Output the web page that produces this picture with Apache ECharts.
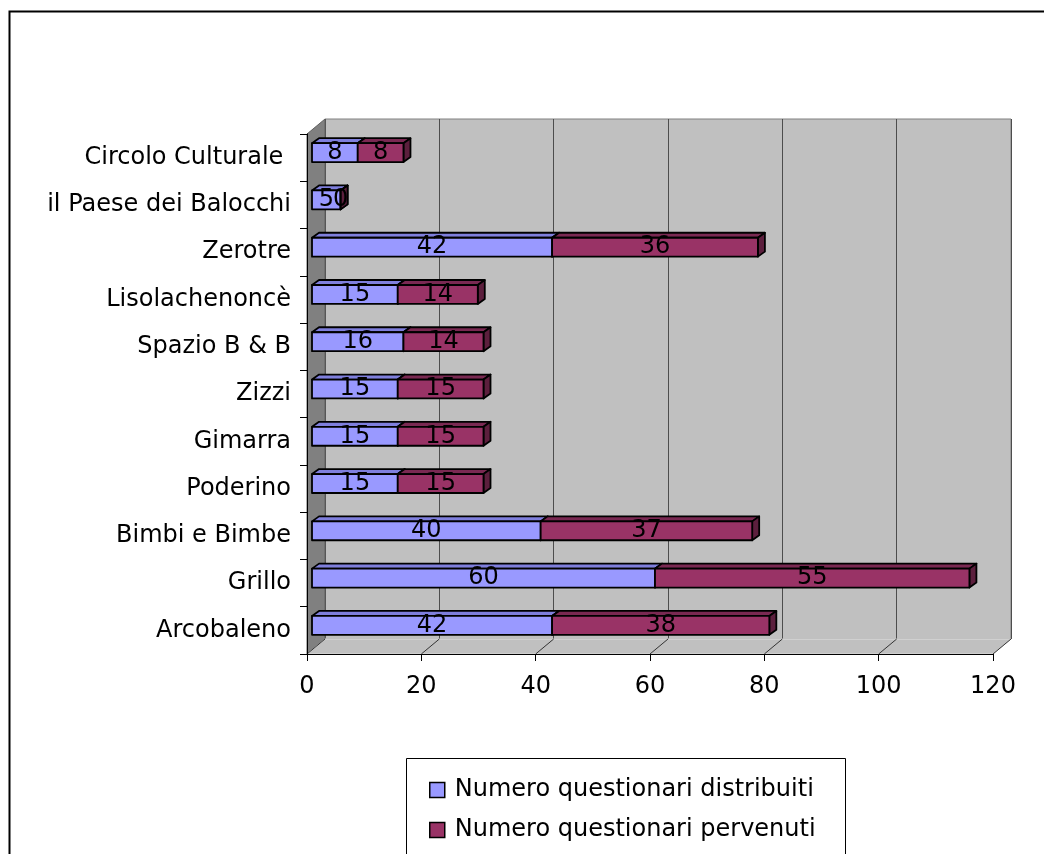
<!DOCTYPE html>
<html>
<head>
<meta charset="utf-8">
<script src="https://cdn.jsdelivr.net/npm/echarts@6/dist/echarts.min.js"></script>
<style>
html,body{margin:0;padding:0;background:#fff;}
#chart{width:1044px;height:854px;}
</style>
</head>
<body>
<div id="chart"></div>
<script>
var categories = ['Arcobaleno', 'Grillo', 'Bimbi e Bimbe', 'Poderino', 'Gimarra', 'Zizzi', 'Spazio B & B', 'Lisolachenoncè', 'Zerotre', 'il Paese dei Balocchi', 'Circolo Culturale '];
var distribuiti = [42, 60, 40, 15, 15, 15, 16, 15, 42, 5, 8];
var pervenuti = [38, 55, 37, 15, 15, 15, 14, 14, 36, 0, 8];
var xTicks = [0, 20, 40, 60, 80, 100, 120];
var seriesNames = ['Numero questionari distribuiti', 'Numero questionari pervenuti'];

var FONT = 'DejaVu Sans';
var DX = 18, DY = -15;          // wall depth
var OX = 5, OY = -5;            // bar depth position
var BX = 7, BY = -5;            // bar thickness
var colors = [
  {front: '#9999ff', top: '#7f7fdd', side: '#5c5c99'},
  {front: '#993366', top: '#7a2952', side: '#5c1f3d'}
];

function segData(startArr, vals) {
  return vals.map(function (v, i) {
    var s = startArr ? startArr[i] : 0;
    return [i, s, s + v, v];
  });
}

function makeBarRenderer(ci) {
  return function (params, api) {
    var cat = api.value(0), s = api.value(1), e = api.value(2), v = api.value(3);
    var p0 = api.coord([s, cat]), p1 = api.coord([e, cat]);
    var h = api.size([0, 1])[1] * 0.4;
    var x0 = p0[0] + OX, x1 = p1[0] + OX;
    var yc = p0[1] + OY;
    var yT = yc - h / 2, yB = yc + h / 2;
    var c = colors[ci];
    var st = {stroke: '#000', lineWidth: 1.8, lineJoin: 'round'};
    return {
      type: 'group',
      children: [
        {type: 'polygon', shape: {points: [[x0, yT], [x1, yT], [x1 + BX, yT + BY], [x0 + BX, yT + BY]]},
          style: Object.assign({fill: c.top}, st)},
        {type: 'polygon', shape: {points: [[x1, yT], [x1 + BX, yT + BY], [x1 + BX, yB + BY], [x1, yB]]},
          style: Object.assign({fill: c.side}, st)},
        {type: 'rect', shape: {x: x0, y: yT, width: x1 - x0, height: yB - yT},
          style: Object.assign({fill: c.front}, st)},
        {type: 'text', x: (x0 + x1) / 2, y: yc,
          style: {text: String(v), fill: '#000', font: '24px "' + FONT + '"', align: 'center', verticalAlign: 'middle'}}
      ]
    };
  };
}

function renderWalls(params, api) {
  var cs = params.coordSys;
  var x = cs.x, y = cs.y, w = cs.width, h = cs.height;
  var b = y + h;
  var children = [
    {type: 'polygon', shape: {points: [[x, y], [x + DX, y + DY], [x + DX, b + DY], [x, b]]},
      style: {fill: '#808080', stroke: '#606060', lineWidth: 1}},
    {type: 'polygon', shape: {points: [[x, b], [x + DX, b + DY], [x + w + DX, b + DY], [x + w, b]]},
      style: {fill: '#c0c0c0', stroke: '#e0e0e0', lineWidth: 1}}
  ];
  xTicks.forEach(function (t) {
    var px = api.coord([t, 0])[0];
    children.push({type: 'line', shape: {x1: px, y1: b, x2: px + DX, y2: b + DY},
      style: {stroke: '#333', lineWidth: 1}});
  });
  return {type: 'group', children: children};
}

function legendFor(i, top) {
  return {
    orient: 'vertical', left: 429, top: top, padding: 0,
    itemWidth: 15, itemHeight: 15,
    textStyle: {color: '#000', fontSize: 24, fontFamily: FONT, lineHeight: 24, padding: [0, 0, 0, 5]},
    selectedMode: false,
    data: [{name: seriesNames[i], icon: 'rect',
      itemStyle: {color: colors[i].front, borderColor: '#000', borderWidth: 1.5}}]
  };
}

var chart = echarts.init(document.getElementById('chart'));
chart.setOption({
  animation: false,
  backgroundColor: '#fff',
  textStyle: {fontFamily: FONT},
  graphic: [
    {type: 'rect', left: 7, top: 9, shape: {width: 2000, height: 2000},
      style: {fill: 'none', stroke: '#000', lineWidth: 2}, z: 10},
    {type: 'rect', left: 404, top: 756, shape: {width: 439, height: 200},
      style: {fill: 'none', stroke: '#000', lineWidth: 1}, z: 10}
  ],
  grid: [
    {left: 307, top: 134, width: 686, height: 520, containLabel: false},
    {left: 307 + DX, top: 134 + DY, width: 686, height: 520, show: true,
      backgroundColor: '#c0c0c0', borderColor: '#808080', borderWidth: 1, z: 0}
  ],
  xAxis: [
    {gridIndex: 0, type: 'value', min: 0, max: 120, interval: 20, z: 5,
      axisLine: {show: true, lineStyle: {color: '#000', width: 1}},
      axisTick: {show: true, length: 7, lineStyle: {color: '#000'}},
      axisLabel: {color: '#000', fontSize: 24, fontFamily: FONT, margin: 21},
      splitLine: {show: false}},
    {gridIndex: 1, type: 'value', min: 0, max: 120, interval: 20, z: 1,
      axisLine: {show: false}, axisTick: {show: false}, axisLabel: {show: false},
      splitLine: {show: true, lineStyle: {color: '#4d4d4d', width: 1}}}
  ],
  yAxis: [
    {gridIndex: 0, type: 'category', data: categories, z: 5,
      axisLine: {show: true, lineStyle: {color: '#000', width: 1}},
      axisTick: {show: true, length: 7, interval: 0, lineStyle: {color: '#000'}},
      axisLabel: {color: '#000', fontSize: 24, fontFamily: FONT, margin: 16, interval: 0},
      splitLine: {show: false}},
    {gridIndex: 1, type: 'value', min: 0, max: 1, show: false, splitLine: {show: false}}
  ],
  legend: [legendFor(0, 778), legendFor(1, 818)],
  series: [
    {type: 'custom', name: 'walls', xAxisIndex: 0, yAxisIndex: 0, z: 1, silent: true,
      renderItem: renderWalls, data: [[0, 0]], encode: {x: 0, y: 1}},
    {type: 'custom', name: seriesNames[0], xAxisIndex: 0, yAxisIndex: 0, z: 2,
      itemStyle: {color: colors[0].front},
      renderItem: makeBarRenderer(0), data: segData(null, distribuiti),
      encode: {x: [1, 2], y: 0}},
    {type: 'custom', name: seriesNames[1], xAxisIndex: 0, yAxisIndex: 0, z: 3,
      itemStyle: {color: colors[1].front},
      renderItem: makeBarRenderer(1), data: segData(distribuiti, pervenuti),
      encode: {x: [1, 2], y: 0}}
  ]
});
</script>
</body>
</html>
